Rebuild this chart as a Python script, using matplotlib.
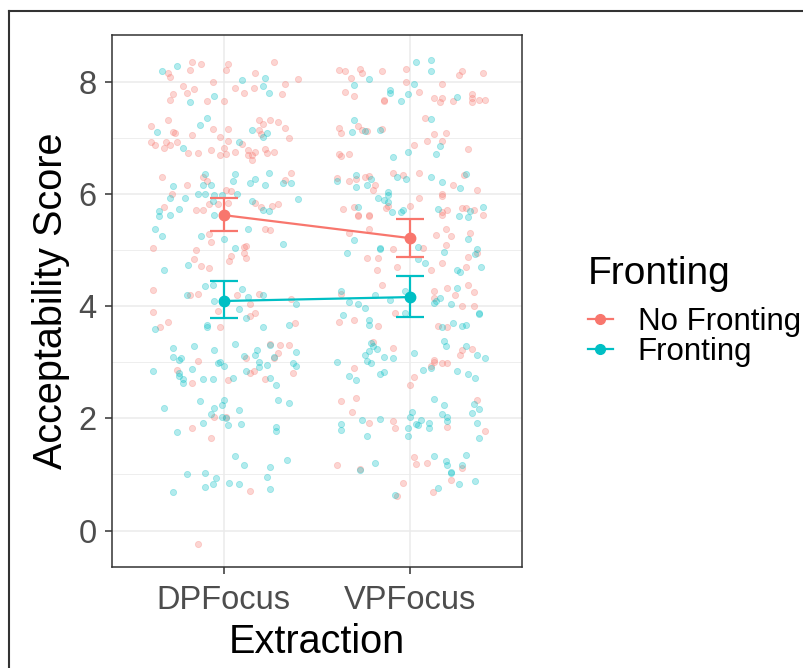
import numpy as np
import matplotlib
matplotlib.use("Agg")
import matplotlib.pyplot as plt
from matplotlib.lines import Line2D

plt.rcParams['font.family'] = ['Liberation Sans', 'DejaVu Sans']

# --------------------------
# Data: jittered participant scores (x offset from category, score)
# --------------------------
extraction = ["DPFocus", "VPFocus"]
fronting = ["No Fronting", "Fronting"]
colors = {"No Fronting": "#F8766D", "Fronting": "#00BFC4"}

dp_nofront_x = [-0.30, -0.29, -0.17, -0.18, -0.12, 0.02, 0.01, 0.27, 0.17, 0.40, 0.33, -0.06, -0.22, -0.16, -0.27, -0.20, -0.29, -0.09, 0.00, 0.06, 0.11, 0.16, 0.31,
                -0.30, -0.39, -0.06, -0.27, -0.26, -0.17, 0.02, -0.02, 0.19, 0.25, 0.21, 0.29, 0.33, 0.19, 0.20, 0.35,
                -0.39, -0.37, -0.31, -0.32, -0.29, -0.25, -0.19, -0.14, -0.07, 0.02, 0.10, 0.00, 0.06, -0.02, 0.01, 0.13, 0.13, 0.17, 0.15, 0.15, 0.22, 0.23, 0.27,
                -0.33, -0.11, -0.09, 0.36, 0.33, -0.20, 0.01, -0.28, 0.04, -0.32, -0.15, -0.11, -0.08, -0.03, 0.02, 0.17, 0.20, 0.26, 0.29,
                -0.08, -0.07, 0.22, 0.25, -0.38, -0.15, 0.11, 0.12, 0.04, 0.03, 0.11, 0.12, -0.16, -0.12, -0.08,
                -0.38, -0.18, -0.14, 0.07, 0.19, 0.36, -0.38, -0.03, 0.14, 0.17, 0.14, -0.30, -0.34, -0.02, 0.38,
                0.25, 0.30, 0.35, 0.29, 0.12, -0.14, 0.27, -0.25, -0.17, 0.02, 0.16, 0.14, 0.22, 0.37,
                -0.05, 0.01, -0.17, -0.07, 0.14, -0.14]
dp_nofront_y = [8.15, 8.08, 8.34, 8.21, 8.32, 8.31, 8.21, 8.34, 8.15, 8.05, 7.96, 7.99, 7.92, 7.87, 7.77, 7.79, 7.68, 7.65, 7.66, 7.88, 7.80, 7.88, 7.77,
                7.32, 7.20, 7.16, 7.11, 7.08, 7.04, 7.16, 7.01, 7.32, 7.32, 7.25, 7.28, 7.17, 7.14, 7.07, 6.99,
                6.92, 6.87, 6.92, 6.82, 6.87, 6.92, 6.73, 6.73, 6.78, 6.94, 6.88, 6.81, 6.75, 6.70, 6.71, 6.78, 6.70, 6.75, 6.69, 6.60, 6.80, 6.72, 6.75,
                6.30, 6.30, 6.22, 6.37, 6.25, 6.15, 6.06, 5.99, 6.05, 5.76, 5.71, 5.72, 5.82, 5.81, 5.84, 5.84, 5.76, 5.78, 5.82,
                5.28, 5.14, 5.38, 5.35, 5.03, 5.00, 5.06, 5.07, 4.90, 4.80, 4.95, 4.86, 4.83, 4.71, 4.67,
                4.29, 4.19, 4.21, 4.19, 4.21, 4.12, 3.90, 3.91, 4.03, 3.88, 3.82, 3.72, 3.62, 3.62, 3.69,
                3.33, 3.31, 3.31, 3.17, 3.08, 3.02, 3.07, 2.86, 2.62, 2.68, 2.85, 2.80, 2.70, 2.81,
                2.02, 2.03, 1.83, 1.64, 0.71, -0.24]

dp_front_x = [-0.33, -0.25, 0.22, 0.10, 0.21, 0.24, -0.05, -0.18, -0.36, -0.09, -0.13, 0.15, 0.23, 0.21, -0.22, 0.08,
              -0.10, 0.06, 0.05, 0.24, 0.32, 0.36, -0.27, -0.11, -0.07, 0.14, 0.17, 0.22, -0.29, -0.21, -0.14, -0.10, -0.05, -0.01, 0.07, -0.35, -0.24, -0.06, 0.15, 0.21, 0.24, 0.40,
              -0.35, -0.29, -0.05, -0.37, -0.33, -0.12, 0.00, 0.13, 0.32, 0.06, -0.19, -0.32,
              -0.10, -0.06, 0.10, -0.20, -0.05, 0.13, 0.21, 0.39, 0.08, 0.12, -0.37, -0.09, -0.09, 0.21, 0.35,
              0.06, -0.27, -0.16, -0.05, 0.25, 0.18, 0.17, 0.11, 0.39, -0.27, -0.23, -0.24, -0.03, -0.02, 0.00, 0.27, 0.19, 0.19, 0.23, 0.37, 0.39,
              -0.38, -0.24, -0.17, -0.24, -0.22, -0.22, -0.11, -0.06, 0.05, 0.12, 0.25, 0.28,
              -0.32, -0.13, 0.00, -0.01, -0.05, 0.08, 0.29, 0.35, -0.07, -0.01, 0.01, -0.11, -0.25, 0.02, 0.09, 0.28, 0.28,
              0.06, 0.11, 0.25, 0.34, -0.20, -0.10, -0.04, -0.06, -0.10, 0.03, 0.08, 0.23, 0.25, -0.27]
dp_front_y = [8.18, 8.27, 8.07, 8.02, 7.93, 7.80, 7.75, 7.63, 7.11, 7.35, 7.23, 7.13, 7.09, 7.01, 6.82, 6.92,
              6.36, 6.36, 6.22, 6.37, 6.19, 6.19, 6.14, 6.15, 6.15, 6.19, 6.27, 6.15, 5.93, 5.92, 5.99, 5.99, 5.97, 5.98, 5.99, 5.69, 5.73, 5.87, 5.88, 5.72, 5.70, 5.90,
              5.61, 5.62, 5.62, 5.38, 5.24, 5.24, 5.19, 5.38, 5.11, 5.03, 4.73, 4.65,
              4.36, 4.38, 4.31, 4.19, 4.09, 4.17, 4.19, 4.03, 3.95, 3.79, 3.59, 3.67, 3.63, 3.62, 3.67,
              3.33, 3.26, 3.28, 3.21, 3.31, 3.21, 3.13, 3.11, 3.19, 3.09, 3.07, 3.03, 2.99, 3.01, 2.93, 3.09, 3.01, 2.91, 2.95, 2.98, 2.93,
              2.84, 2.81, 2.88, 2.76, 2.70, 2.62, 2.70, 2.70, 2.71, 2.84, 2.71, 2.59,
              2.18, 2.30, 2.33, 2.23, 2.18, 2.14, 2.33, 2.28, 2.07, 2.03, 2.01, 1.92, 1.76, 1.88, 1.90, 1.85, 1.78,
              1.33, 1.16, 1.14, 1.26, 1.00, 1.02, 0.93, 0.83, 0.78, 0.85, 0.83, 0.95, 0.74, 0.69]

vp_nofront_x = [-0.38, -0.35, -0.27, -0.26, -0.15, -0.02, -0.32, 0.26, 0.28, 0.39, -0.02, 0.17, 0.05, -0.35, -0.30, -0.14, -0.14, 0.13, 0.17, 0.16, 0.23, 0.33, 0.33, 0.33, 0.37, 0.40,
                0.08, -0.38, -0.37, -0.28, -0.26, -0.23, -0.15, 0.13, 0.19, 0.09, 0.17, 0.02, 0.31, -0.38, -0.37, -0.33,
                -0.39, -0.33, -0.29, -0.24, -0.22, -0.19, -0.20, -0.09, -0.04, 0.05, 0.23, 0.29, 0.36, -0.12, -0.13, 0.00, 0.05, 0.17, 0.17, -0.36, -0.30, -0.28, -0.22, 0.17, 0.20, 0.28, 0.30, 0.34,
                -0.28, -0.22, 0.17, 0.39, -0.22, -0.33, 0.19, 0.32, 0.14, 0.22, -0.09, -0.23, -0.17, 0.07, 0.19, 0.31, -0.07, -0.18, 0.11, 0.17, 0.30, 0.36,
                -0.15, -0.37, 0.13, 0.13, 0.20, 0.24, 0.31, 0.34, 0.28, 0.34, -0.08, -0.38, -0.30, -0.17, 0.15, 0.20,
                -0.20, -0.09, 0.28, 0.27, 0.33, 0.13, 0.13, 0.11, 0.17, 0.20, -0.30, 0.02, 0.00,
                -0.37, -0.29, -0.31, 0.36, -0.22, -0.09, -0.08, 0.20, 0.40, -0.39, -0.27, 0.02, 0.03, 0.09, 0.22, 0.28, -0.04, -0.07, 0.12]
vp_nofront_y = [8.20, 8.18, 8.23, 8.15, 8.18, 8.23, 8.06, 8.12, 8.18, 8.15, 7.99, 7.96, 7.82, 7.82, 7.75, 7.67, 7.66, 7.70, 7.71, 7.63, 7.65, 7.77, 7.70, 7.63, 7.68, 7.68,
                7.35, 7.18, 7.08, 7.21, 7.14, 7.12, 7.16, 7.06, 7.09, 6.95, 6.95, 6.87, 6.80, 6.71, 6.68, 6.71,
                6.28, 6.23, 6.27, 6.30, 6.32, 6.16, 6.06, 6.37, 6.33, 6.37, 6.16, 6.34, 6.06, 5.79, 5.74, 5.78, 5.92, 5.99, 5.96, 5.73, 5.77, 5.63, 5.63, 5.68, 5.71, 5.74, 5.75, 5.71,
                5.61, 5.61, 5.62, 5.62, 5.38, 5.31, 5.38, 5.31, 5.26, 5.24, 5.02, 4.86, 4.86, 5.04, 5.09, 4.88, 4.69, 4.64, 4.64, 4.76, 4.69, 4.95,
                4.38, 4.22, 4.26, 4.15, 4.33, 4.19, 4.38, 4.25, 4.00, 4.00, 3.88, 3.72, 3.76, 3.65, 3.65, 3.62,
                3.36, 3.26, 3.21, 3.12, 3.24, 3.04, 3.00, 2.93, 2.98, 2.98, 2.90, 2.74, 2.60,
                2.30, 2.37, 2.11, 2.33, 1.92, 1.95, 1.83, 1.85, 1.78, 1.16, 1.09, 1.31, 1.19, 1.21, 0.90, 1.12, 0.85, 0.62, 0.69]

vp_front_x = [0.03, 0.11, 0.11, -0.22, -0.30, -0.11, -0.11, -0.01, 0.02, -0.05, 0.25, -0.30, 0.11, -0.24, -0.31, -0.16, 0.16, -0.01, 0.14, -0.09,
              -0.39, -0.29, -0.29, -0.21, -0.23, -0.07, -0.02, 0.11, 0.17, 0.27, 0.30, -0.12, -0.12, -0.17, -0.14, -0.12, -0.10, -0.04, -0.05, -0.28, 0.15, 0.32, 0.39,
              0.26, 0.31, -0.30, 0.31, -0.34, -0.16, -0.16, 0.04, 0.18, 0.36, 0.35, 0.04, 0.08, 0.25, 0.27, 0.38,
              -0.37, -0.33, -0.19, -0.11, -0.03, 0.13, 0.14, 0.16, 0.25, 0.22, -0.28, -0.24, -0.03, -0.36, -0.22, -0.22, 0.17, 0.23, 0.28, 0.30, 0.37, 0.37,
              0.18, 0.19, -0.21, -0.20, -0.18, -0.22, -0.24, -0.14, -0.09, 0.02, 0.30, 0.36, 0.40, -0.39, -0.23, -0.21, 0.11, 0.07, 0.25, 0.31, 0.35, -0.33, -0.29, -0.16, -0.14,
              0.13, 0.18, 0.34, 0.37, 0.33, 0.01, 0.00, 0.06, 0.03, 0.04, 0.10, 0.10, -0.01, -0.01, 0.17, 0.20, 0.20, 0.36, 0.37, -0.37, -0.37, -0.26, -0.16, -0.23,
              -0.27, -0.19, 0.13, 0.19, 0.20, 0.22, 0.22, 0.28, 0.30, 0.26, 0.35, -0.08, 0.15]
vp_front_y = [8.34, 8.39, 8.18, 8.04, 7.94, 7.85, 7.79, 7.77, 7.96, 7.65, 7.73, 7.32, 7.34, 7.12, 7.11, 7.13, 6.85, 6.75, 6.71, 6.66,
              6.22, 6.33, 6.13, 6.27, 6.15, 6.30, 6.27, 6.30, 6.21, 6.11, 6.35, 6.04, 5.97, 5.92, 5.89, 5.86, 5.67, 5.72, 5.68, 5.77, 5.73, 5.69, 5.76,
              5.61, 5.59, 5.17, 5.19, 4.95, 5.04, 5.01, 5.06, 4.97, 5.02, 4.92, 4.83, 4.76, 4.64, 4.61, 4.69,
              4.26, 4.08, 4.19, 4.11, 4.26, 4.06, 4.09, 4.14, 4.33, 4.04, 4.03, 3.97, 3.87, 3.84, 3.76, 3.67, 3.62, 3.69, 3.65, 3.66, 3.87, 3.85,
              3.38, 3.29, 3.34, 3.29, 3.24, 3.20, 3.12, 3.09, 3.08, 3.17, 3.29, 3.12, 3.08, 3.00, 3.02, 2.98, 2.90, 2.86, 2.84, 2.79, 2.71, 2.76, 2.69, 2.79, 2.83,
              2.35, 2.23, 2.26, 2.16, 2.09, 2.12, 2.02, 1.97, 1.90, 1.88, 1.92, 1.83, 1.83, 1.69, 2.07, 2.02, 1.95, 1.92, 1.64, 1.90, 1.80, 1.97, 1.99, 1.69,
              1.07, 1.21, 1.33, 1.23, 1.16, 1.04, 1.02, 1.16, 1.35, 0.83, 0.88, 0.64, 0.76]

# condition means with 95% CI, ordered DPFocus, VPFocus
nofront_mean = [5.62, 5.21]
nofront_lo = [5.33, 4.87]
nofront_hi = [5.93, 5.55]
front_mean = [4.09, 4.16]
front_lo = [3.79, 3.81]
front_hi = [4.44, 4.53]

# --------------------------
# Figure
# --------------------------
W, H = 804, 668
fig = plt.figure(figsize=(W / 100, H / 100), dpi=100)
ax = fig.add_axes([112 / W, 1 - 567 / H, 410 / W, 532 / H])

pos = np.arange(1, len(extraction) + 1)

groups = [
    (dp_nofront_x, dp_nofront_y, pos[0], "No Fronting"),
    (dp_front_x, dp_front_y, pos[0], "Fronting"),
    (vp_nofront_x, vp_nofront_y, pos[1], "No Fronting"),
    (vp_front_x, vp_front_y, pos[1], "Fronting"),
]
for xs, ys, p, cond in groups:
    ax.scatter(p + np.array(xs), ys, s=20, color=colors[cond], alpha=0.3,
               linewidths=0.6, zorder=2)

summaries = [
    ("No Fronting", nofront_mean, nofront_lo, nofront_hi),
    ("Fronting", front_mean, front_lo, front_hi),
]
for cond, m, lo, hi in summaries:
    m = np.array(m)
    yerr = [m - np.array(lo), np.array(hi) - m]
    ax.errorbar(pos, m, yerr=yerr, color=colors[cond], fmt='o-', markersize=7.5,
                linewidth=1.6, elinewidth=1.6, capsize=10, capthick=1.6, zorder=4)

ax.set_xlim(0.4, 2.6)
ax.set_ylim(-0.65, 8.83)
ax.set_xticks(pos)
ax.set_xticklabels(extraction)
ax.set_yticks([0, 2, 4, 6, 8])
ax.set_yticks([1, 3, 5, 7], minor=True)
ax.tick_params(axis='both', which='major', labelsize=23.5, labelcolor='#4D4D4D',
               color='#333333', length=5, width=1.1)
ax.tick_params(axis='x', which='major', pad=8)
ax.tick_params(axis='y', which='major', pad=6)
ax.tick_params(axis='y', which='minor', length=0)

ax.grid(True, which='major', color='#EBEBEB', linewidth=1.1, zorder=0)
ax.grid(True, which='minor', axis='y', color='#EBEBEB', linewidth=0.6, zorder=0)
ax.set_axisbelow(True)
for sp in ax.spines.values():
    sp.set_color('#333333')
    sp.set_linewidth(1.1)

ax.set_xlabel("Extraction", fontsize=28.5, labelpad=5)
ax.set_ylabel("Acceptability Score", fontsize=28.5, labelpad=6)

# legend
handles = [Line2D([], [], color=colors[c], marker='o', markersize=7, linewidth=1.6)
           for c in fronting]
leg = fig.legend(handles, fronting, title="Fronting", loc='upper left',
                 bbox_to_anchor=(566 / W, 1 - 234 / H), frameon=False,
                 fontsize=22.5, title_fontsize=28, handlelength=0.8,
                 handletextpad=0.8, labelspacing=0.0, borderpad=0.2,
                 alignment='left')
leg._legend_box.sep = 11

# outer frame
fig.add_artist(Line2D([9 / W, 1], [1 - 11 / H, 1 - 11 / H], color='#333333', linewidth=1.5))
fig.add_artist(Line2D([9 / W, 9 / W], [0, 1 - 11 / H], color='#333333', linewidth=1.5))

fig.savefig("out.png", dpi=100)
